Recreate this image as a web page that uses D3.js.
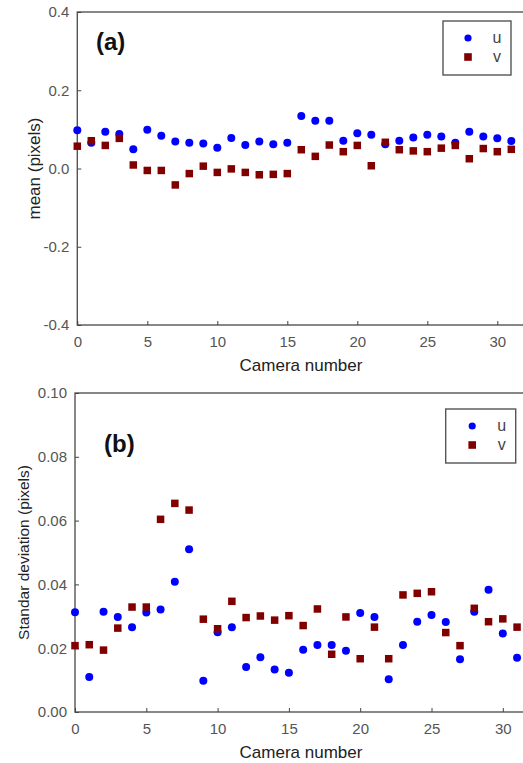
<!DOCTYPE html>
<html>
<head>
<meta charset="utf-8">
<script src="https://cdn.jsdelivr.net/npm/d3@7"></script>
<style>
  html, body { margin: 0; padding: 0; background: #fff; }
  svg { display: block; }
  text { font-family: "Liberation Sans", Arial, sans-serif; }
</style>
</head>
<body>
<svg id="fig" width="523" height="763"></svg>
<script>
// Camera indices
const cameras = [0,1,2,3,4,5,6,7,8,9,10,11,12,13,14,15,16,17,18,19,20,21,22,23,24,25,26,27,28,29,30,31];

// (a) mean offset per camera (pixels)
const meanU = [0.098,0.066,0.094,0.088,0.049,0.099,0.084,0.069,0.066,0.064,0.053,0.078,0.060,0.069,0.062,0.066,
               0.134,0.122,0.122,0.071,0.090,0.086,0.062,0.071,0.079,0.086,0.082,0.066,0.094,0.082,0.077,0.070];
const meanV = [0.057,0.071,0.059,0.077,0.009,-0.005,-0.005,-0.042,-0.013,0.006,-0.010,-0.001,-0.010,-0.016,-0.015,-0.013,
               0.048,0.031,0.060,0.043,0.059,0.007,0.067,0.048,0.045,0.043,0.052,0.059,0.025,0.051,0.043,0.049];

// (b) standard deviation per camera (pixels)
const sdU = [0.0313,0.0110,0.0314,0.0298,0.0266,0.0312,0.0321,0.0408,0.0510,0.0098,0.0250,0.0266,0.0141,0.0172,0.0133,0.0123,
             0.0195,0.0210,0.0210,0.0192,0.0310,0.0298,0.0103,0.0210,0.0283,0.0304,0.0282,0.0165,0.0314,0.0383,0.0246,0.0170];
const sdV = [0.0208,0.0211,0.0194,0.0263,0.0329,0.0329,0.0604,0.0654,0.0633,0.0291,0.0261,0.0347,0.0296,0.0301,0.0288,0.0302,
             0.0271,0.0323,0.0181,0.0298,0.0167,0.0266,0.0167,0.0367,0.0372,0.0377,0.0249,0.0208,0.0325,0.0283,0.0292,0.0266];

// Tick values and labels
const xTicks = [0,5,10,15,20,25,30];
const meanTicks = [-0.4,-0.2,0.0,0.2,0.4];
const sdTicks = [0.00,0.02,0.04,0.06,0.08,0.10];
const seriesNames = ["u","v"];

const colorU = "#0000ff";
const colorV = "#800000";
const axisColor = "#444";
const tickTextColor = "#555";

const svg = d3.select("#fig");

function panel(opts) {
  const g = svg.append("g");
  const x = d3.scaleLinear().domain([0, 32]).range([opts.left, opts.left + opts.unit * 32]);
  const y = d3.scaleLinear().domain(opts.yDomain).range([opts.bottom, opts.top]);

  // plot frame
  g.append("rect")
    .attr("x", opts.left).attr("y", opts.top)
    .attr("width", x(32) - opts.left + 20).attr("height", opts.bottom - opts.top)
    .attr("fill", "none").attr("stroke", "#555").attr("stroke-width", 1.4);

  // x axis (inward ticks)
  const gx = g.append("g").attr("transform", `translate(0,${opts.bottom})`)
    .call(d3.axisBottom(x).tickValues(xTicks).tickFormat(d3.format("d"))
      .tickSizeInner(-4).tickSizeOuter(0).tickPadding(11));
  gx.select(".domain").remove();
  gx.selectAll("line").attr("stroke", axisColor);
  gx.selectAll("text").attr("fill", tickTextColor).style("font-size", "15px");

  // y axis (inward ticks), plain hyphen for negatives
  const gy = g.append("g").attr("transform", `translate(${opts.left},0)`)
    .call(d3.axisLeft(y).tickValues(opts.yTicks).tickFormat((d) => d.toFixed(opts.yDigits))
      .tickSizeInner(-4).tickSizeOuter(0).tickPadding(8));
  gy.select(".domain").remove();
  gy.selectAll("line").attr("stroke", axisColor);
  gy.selectAll("text").attr("fill", tickTextColor).style("font-size", "15px");

  // axis titles
  g.append("text")
    .attr("x", 301).attr("y", opts.bottom + 46)
    .attr("text-anchor", "middle").attr("fill", "#222")
    .style("font-size", "17px").text("Camera number");
  g.append("text")
    .attr("transform", `translate(${opts.yTitleX},${(opts.top + opts.bottom) / 2}) rotate(-90)`)
    .attr("text-anchor", "middle").attr("fill", "#222")
    .style("font-size", opts.yTitleSize).text(opts.yTitle);

  // panel label
  g.append("text")
    .attr("x", opts.labelX).attr("y", opts.labelY)
    .attr("fill", "#111").style("font-size", "24px").style("font-weight", "bold")
    .text(opts.label);

  // u series: circles
  g.append("g").selectAll("circle").data(cameras).join("circle")
    .attr("cx", (d) => x(d)).attr("cy", (d, i) => y(opts.u[i]))
    .attr("r", 4).attr("fill", colorU);

  // v series: squares drawn above u
  const s = 7.5;
  g.append("g").selectAll("rect").data(cameras).join("rect")
    .attr("x", (d) => x(d) - s / 2).attr("y", (d, i) => y(opts.v[i]) - s / 2)
    .attr("width", s).attr("height", s).attr("fill", colorV);

  // legend
  const lg = g.append("g").attr("transform", `translate(${opts.legX},${opts.legY})`);
  lg.append("rect").attr("width", opts.legW).attr("height", 54)
    .attr("fill", "#fff").attr("stroke", "#555").attr("stroke-width", 1.4);
  lg.append("circle").attr("cx", opts.legMarkX).attr("cy", 17).attr("r", 3.6).attr("fill", colorU);
  lg.append("rect").attr("x", opts.legMarkX - 3.8).attr("y", 36 - 3.8)
    .attr("width", 7.6).attr("height", 7.6).attr("fill", colorV);
  lg.selectAll("text.key").data(seriesNames).join("text")
    .attr("class", "key")
    .attr("x", opts.legTextX).attr("y", (d, i) => 22 + i * 19)
    .attr("text-anchor", "middle").attr("fill", "#444").style("font-size", "16px")
    .text((d) => d);
}

panel({
  left: 77.3, unit: 14.0, top: 12, bottom: 325,
  yDomain: [-0.4, 0.4], yTicks: meanTicks, yDigits: 1,
  yTitle: "mean (pixels)", yTitleX: 40, yTitleSize: "17px",
  label: "(a)", labelX: 96, labelY: 50,
  u: meanU, v: meanV,
  legX: 443, legY: 21, legW: 68, legMarkX: 25, legTextX: 54
});

panel({
  left: 75, unit: 14.26, top: 393, bottom: 712,
  yDomain: [0, 0.10], yTicks: sdTicks, yDigits: 2,
  yTitle: "Standar deviation (pixels)", yTitleX: 29, yTitleSize: "15.5px",
  label: "(b)", labelX: 104, labelY: 452,
  u: sdU, v: sdV,
  legX: 445.7, legY: 409, legW: 70, legMarkX: 26.5, legTextX: 56
});
</script>
</body>
</html>
